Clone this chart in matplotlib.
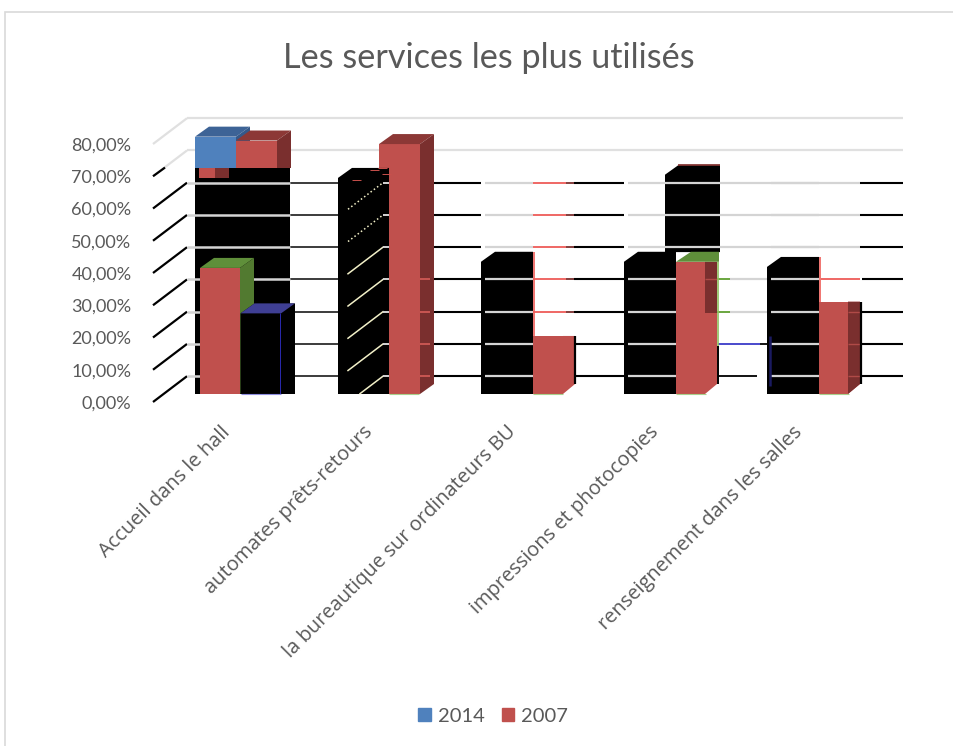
import matplotlib
matplotlib.use("Agg")
import matplotlib.pyplot as plt
from matplotlib.patches import Patch, Rectangle

plt.rcParams["font.family"] = ["Lato", "DejaVu Sans"]

categories = ["Accueil dans le hall", "automates prêts-retours",
              "la bureautique sur ordinateurs BU", "impressions et photocopies",
              "renseignement dans les salles"]
series_names = ["2014", "2007"]
values_2014 = [79.8, 67, 41, 41, 39.4]
values_2007 = [78.6, 77.5, 18, 41, 28.6]
# second layer of the first group, and black block left by the bad export
hall_front_2014 = 25
hall_front_2007 = 39.1
hall_block_top = 70.2
photocopies_block_top = 68
photocopies_block_bottom = 44
ticks = [0, 10, 20, 30, 40, 50, 60, 70, 80]
tick_labels = ["0,00%", "10,00%", "20,00%", "30,00%", "40,00%", "50,00%", "60,00%", "70,00%", "80,00%"]

BLUE = "#4f81bd"
BLUE_TOP = "#3d6396"
RED = "#c0504d"
RED_TOP = "#8c3836"
RED_SIDE = "#7a2f2e"
GREEN_TOP = "#5f8f3a"
GREEN_SIDE = "#527a30"
INDIGO = "#3f3f94"
GRAY = "#d4d4d4"
LIGHT = "#e0e0e0"
TEXT = "#595959"

fig = plt.figure(figsize=(9.54, 7.46), dpi=100)
ax = fig.add_axes([155 / 954, 1 - 402 / 746, (869 - 155) / 954, (402 - 144) / 746])
ax.set_xlim((155 - 236) / 143, (869 - 236) / 143)
ax.set_ylim(0, 80)
ax.patch.set_visible(False)
for s in ax.spines.values():
    s.set_visible(False)

base = 2.48      # bars stand a little behind the front of the axis
wall = 8         # back wall height offset
dx = 14 / 143    # depth of a bar
dy = 3.1


def gx(i, off):
    # off = pixels from the left edge of group i
    return i + (off - 41) / 143


def hline(x0, x1, y, color, lw=1.5, z=2, ls="-"):
    ax.plot([x0, x1], [y, y], color=color, lw=lw, ls=ls, solid_capstyle="butt", clip_on=False, zorder=z)


def seg(x0, x1, p, color, lw=1.5, z=2):
    hline(x0, x1, p + wall, color, lw=lw, z=z)


def box(left, width, top, front, top_c, side_c, bottom=0, z=3):
    y0 = base + bottom
    y1 = base + top
    ax.bar(left, y1 - y0, width=width, bottom=y0, align="edge", color=front, zorder=z, clip_on=False)
    r = left + width
    ax.fill([left, left + dx, r + dx, r], [y1, y1 + dy, y1 + dy, y1], color=top_c, lw=0, zorder=z, clip_on=False)
    ax.fill([r, r + dx, r + dx, r], [y0, y0 + dy, y1 + dy, y1], color=side_c, lw=0, zorder=z, clip_on=False)


def black_block(left, width, top, bottom=0, z=3):
    # bar whose faces all came out black, one outline so no seams show
    y0 = base + bottom
    y1 = base + top
    r = left + width + dx
    ax.fill([left, left, left + dx, r, r], [y0, y1, y1 + dy, y1 + dy, y0], color="black", lw=0, zorder=z, clip_on=False)


def vline(x, v0, v1, color, lw=1.2, z=4):
    ax.plot([x, x], [base + v0, base + v1], color=color, lw=lw, solid_capstyle="butt", zorder=z, clip_on=False)


# back wall, top two lines stay gray
for p in [70, 80]:
    seg(gx(0, -8), gx(4, 136), p, LIGHT, lw=1.6)
for p in ticks:
    ax.plot([gx(0, -42), gx(0, -8)], [p, p + wall], color="black" if p <= 60 else LIGHT, lw=1.6,
            solid_capstyle="butt", clip_on=False, zorder=2)
ax.plot([gx(0, -42), gx(0, -30)], [70, 72.7], color="black", lw=1.6, solid_capstyle="butt", clip_on=False, zorder=2)

# black blocks
ax.bar(gx(0, 0), hall_block_top, width=95 / 143, bottom=base, align="edge", color="black", zorder=1.5, clip_on=False)
black_block(gx(3, 41), 41 / 143, photocopies_block_top, bottom=photocopies_block_bottom)
hline(gx(3, 54), gx(3, 96), base + photocopies_block_top + 3.0, RED_TOP, lw=1.2, z=4)
for i in [2, 3, 4]:
    black_block(gx(i, 0), 38 / 143, values_2014[i])

# gridlines running across the broken bars
for p in [0, 10, 20, 30, 40, 50, 60]:
    seg(gx(0, 95), gx(1, 0), p, "#1a1a1a", lw=1.2)
    seg(gx(0, -8), gx(0, 95), p, GRAY, lw=1.8, z=3.2)
    seg(gx(1, 95), gx(2, 0), p, "black")
    seg(gx(2, 4), gx(2, 52), p, GRAY, lw=1.6, z=3.2)
    seg(gx(2, 93), gx(3, 0), p, "black")
    seg(gx(3, 4), gx(3, 52), p, GRAY, lw=1.6, z=3.2)
    seg(gx(4, 4), gx(4, 52), p, GRAY, lw=1.6, z=3.2)
    if p >= 20:
        seg(gx(2, 52), gx(2, 85), p, "#ee5c58", lw=1.3)
        seg(gx(2, 85), gx(2, 93), p, RED_SIDE, lw=1.3)
    if p >= 40:
        seg(gx(3, 52), gx(4, 52), p, GRAY, lw=1.6, z=3.2)
        seg(gx(4, 52), gx(4, 93), p, GRAY, lw=1.6)
        seg(gx(4, 93), gx(4, 136), p, "black")
    elif p >= 20:
        seg(gx(3, 93), gx(3, 106), p, "#5f9f30", lw=1.3)
        seg(gx(3, 106), gx(4, 0), p, GRAY, lw=1.6)
        seg(gx(4, 54), gx(4, 93), p, "#ee5c58", lw=1.3)
        seg(gx(4, 95), gx(4, 136), p, "black")
    elif p == 10:
        seg(gx(3, 94), gx(3, 136), p, "#3b3bc8", lw=1.3)
        seg(gx(3, 136), gx(4, 0), p, "black", lw=1.3)
        seg(gx(4, 95), gx(4, 136), p, "black")
    else:
        seg(gx(3, 94), gx(3, 133), p, "black", lw=1.3)
        seg(gx(4, 95), gx(4, 136), p, "black")

# first group
ax.bar(gx(0, 4), 3.1, width=16 / 143, bottom=base + hall_block_top - 3.1, align="edge", color=RED, zorder=3.6, clip_on=False)
ax.bar(gx(0, 20), 3.1, width=dx, bottom=base + hall_block_top - 3.1, align="edge", color=RED_SIDE, zorder=3.6, clip_on=False)
box(gx(0, 5), 40 / 143, hall_front_2007, RED, GREEN_TOP, GREEN_SIDE, z=3.6)
black_block(gx(0, 45.5), 40.5 / 143, hall_front_2014, z=3.7)
ax.fill([gx(0, 45.5), gx(0, 59.5), gx(0, 100), gx(0, 86)],
        [base + hall_front_2014, base + hall_front_2014 + dy, base + hall_front_2014 + dy, base + hall_front_2014],
        color=INDIGO, lw=0, zorder=3.75, clip_on=False)
box(gx(0, 0), 41 / 143, values_2014[0], BLUE, BLUE_TOP, "#35598a", bottom=hall_block_top, z=3.8)
box(gx(0, 41), 41 / 143, values_2007[0], RED, RED_TOP, RED_SIDE, bottom=hall_block_top, z=3.8)
ax.bar(gx(0, 82), values_2007[0] - hall_block_top, width=dx, bottom=base + hall_block_top, align="edge", color=RED_SIDE,
       zorder=3.8, clip_on=False)
hline(gx(0, 46), gx(0, 86), base, "#8f8fe0", lw=0.8, z=5)
vline(gx(0, 85), 0, hall_front_2014, "#2a2ab0", lw=0.7)

# second group: black over the left part of the red bar
box(gx(1, 41), 41 / 143, values_2007[1], RED, RED_TOP, RED_SIDE, z=3)
for p in [0, 10, 20, 30]:
    seg(gx(1, 82), gx(1, 92), p, "#cf5a55", lw=1.3, z=3.5)
black_block(gx(1, 0), 37 / 143, values_2014[1], z=3.1)
for p in [0, 10, 20, 30, 40, 50, 60]:
    x0 = 22 if p == 0 else 10
    y0 = p + wall - (45 - x0) * (wall / 34)
    ax.plot([gx(1, x0), gx(1, 45)], [y0, p + wall], color="#f2f0c8", lw=1.1, ls=":" if p >= 50 else "-",
            zorder=3.3, clip_on=False)
    seg(gx(1, 45), gx(1, 51), p, GRAY, lw=1.4, z=3.3)
for off, v in [(14, 66.5), (32, 69.5), (40, 70), (44, 68.2)]:
    hline(gx(1, off), gx(1, off + 9), base + v, "#c9504c", lw=0.7, z=3.4)


def cut_bar(i, off, front_w, top, side_c=None, side_to=None):
    # red bar whose side lost its top face
    l = gx(i, off)
    r = l + front_w / 143
    y1 = base + top
    ax.bar(l, y1 - base, width=front_w / 143, bottom=base, align="edge", color=RED, zorder=3.4, clip_on=False)
    ax.fill([r, r + 12 / 143, r + 12 / 143, r], [base, base + dy, y1, y1], color=RED, lw=0, zorder=3.4, clip_on=False)
    if side_c:
        if side_to is None:
            low = [base, base + dy]
        else:
            low = [base + side_to, base + side_to]
        ax.fill([r, r + 12 / 143, r + 12 / 143, r], low + [y1, y1], color=side_c, lw=0, zorder=3.45, clip_on=False)


cut_bar(2, 52, 30, values_2007[2])
vline(gx(2, 94), 3.1, values_2007[2], "black", lw=1.6)
vline(gx(2, 53), values_2007[2], values_2014[2] + 3.1, "#ee5c58", lw=1.2)

cut_bar(3, 52, 29, values_2007[3], RED_SIDE, side_to=25)
y_top = base + values_2007[3]
ax.fill([gx(3, 52), gx(3, 67), gx(3, 95), gx(3, 95), gx(3, 81)],
        [y_top, y_top + dy, y_top + dy, y_top, y_top], color=GREEN_TOP, lw=0, zorder=3.5, clip_on=False)
vline(gx(3, 94), 15, values_2007[3], "#8fc060", lw=1.2)
vline(gx(3, 94), 3.1, 15, "black", lw=1.4)
vline(gx(4, 3), 2.5, 18, "#1a1a60", lw=1.8)
seg(gx(3, 81), gx(3, 93), 30, "#b04a47", lw=1.0, z=3.6)

cut_bar(4, 52, 29, values_2007[4], RED_SIDE)
vline(gx(4, 94), 3.1, values_2007[4], "black", lw=1.6)
vline(gx(4, 53), values_2007[4], values_2014[4] + 3.1, "#ee5c58", lw=1.2)
for p in [0, 10, 20]:
    seg(gx(4, 81), gx(4, 93), p, "#b04a47", lw=1.0, z=3.6)
for i in [1, 2, 3, 4]:
    off = 51 if i == 1 else 52
    hline(gx(i, off), gx(i, off + 30), base, "#a9d18e", lw=0.8, z=5)

ax.set_yticks(ticks)
ax.set_yticklabels(tick_labels, fontsize=13, color=TEXT)
ax.tick_params(axis="y", length=0, pad=17)
ax.set_xticks([i - 16 / 143 for i in range(len(categories))])
ax.set_xticklabels(categories, rotation=45, ha="right", va="top", rotation_mode="anchor", fontsize=14.4,
                   color=TEXT, family="Open Sans")
ax.tick_params(axis="x", length=0, pad=14.5)

fig.text(489 / 954, 1 - 58 / 746, "Les services les plus utilisés", ha="center", va="center", fontsize=24.7, color=TEXT)
fig.legend(handles=[Patch(color=BLUE, label=series_names[0]), Patch(color=RED, label=series_names[1])],
           loc="center", bbox_to_anchor=(493 / 954, 1 - 716 / 746), ncols=2, frameon=False, fontsize=14.5,
           labelcolor=TEXT, handlelength=0.6, handleheight=0.6, handletextpad=0.35, columnspacing=0.85)
fig.add_artist(Rectangle((5 / 954, -0.02), 1.1, 1.02 - 12 / 746, transform=fig.transFigure, fill=False, ec="#d9d9d9", lw=1.2))

fig.savefig("out.png", dpi=100)
